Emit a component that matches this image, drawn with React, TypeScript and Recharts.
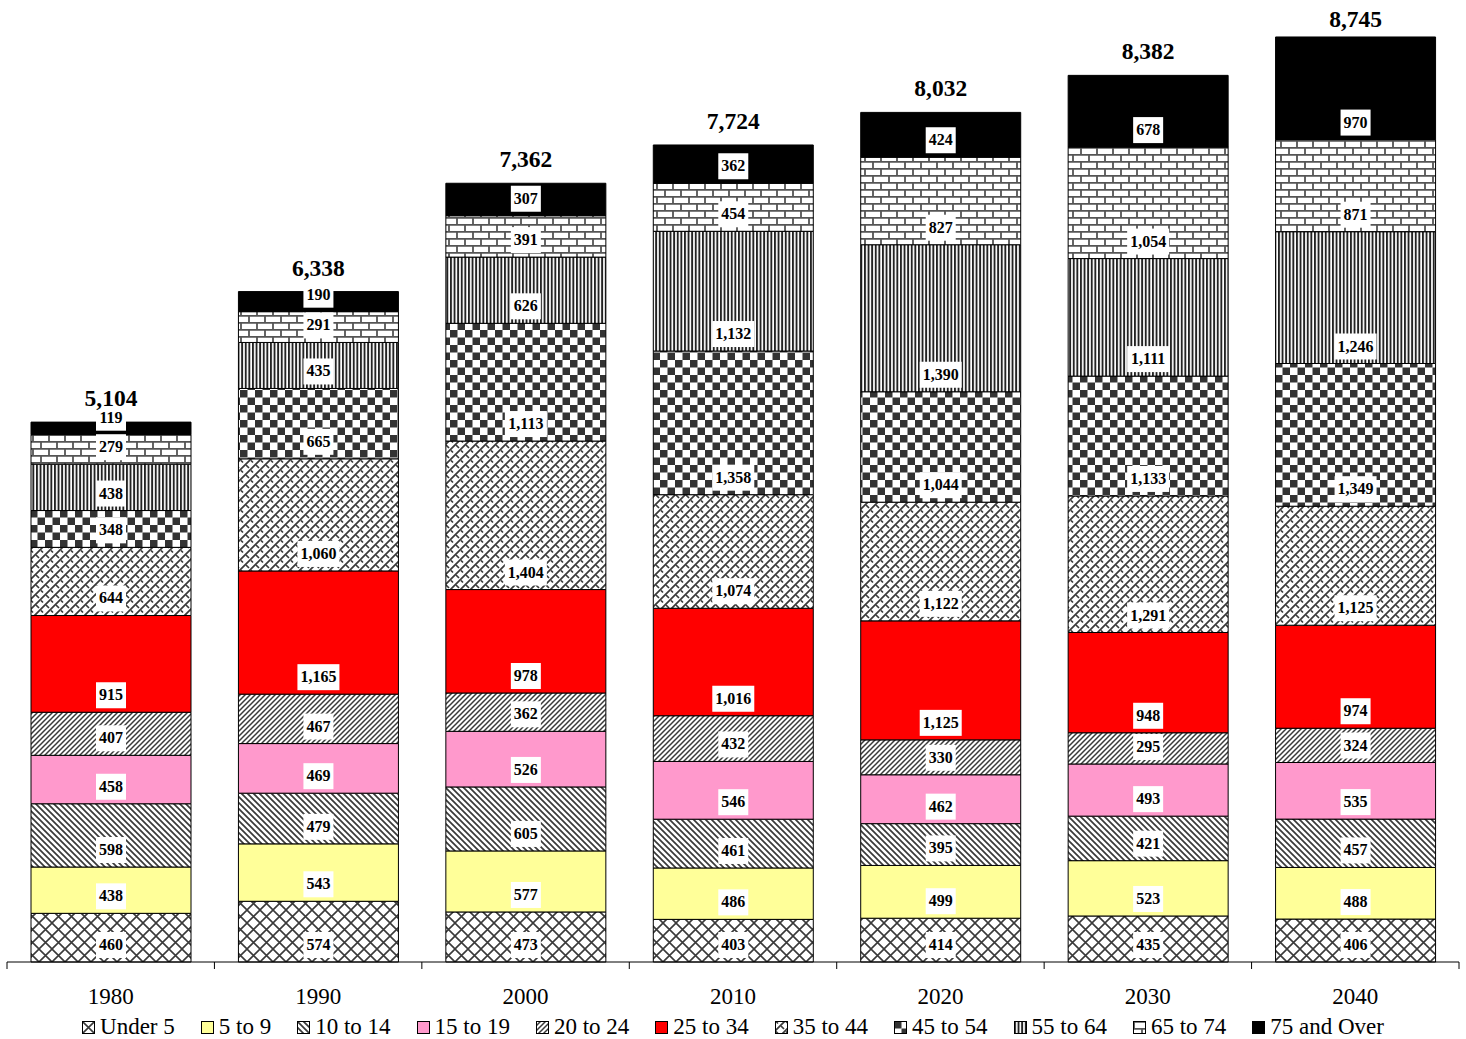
import React from "react";
import { BarChart, Bar, XAxis, YAxis, LabelList } from "recharts";

// population by age group (thousands)
const YEARS = ["1980", "1990", "2000", "2010", "2020", "2030", "2040"];
const UNDER_5 = [460, 574, 473, 403, 414, 435, 406];
const AGE_5_9 = [438, 543, 577, 486, 499, 523, 488];
const AGE_10_14 = [598, 479, 605, 461, 395, 421, 457];
const AGE_15_19 = [458, 469, 526, 546, 462, 493, 535];
const AGE_20_24 = [407, 467, 362, 432, 330, 295, 324];
const AGE_25_34 = [915, 1165, 978, 1016, 1125, 948, 974];
const AGE_35_44 = [644, 1060, 1404, 1074, 1122, 1291, 1125];
const AGE_45_54 = [348, 665, 1113, 1358, 1044, 1133, 1349];
const AGE_55_64 = [438, 435, 626, 1132, 1390, 1111, 1246];
const AGE_65_74 = [279, 291, 391, 454, 827, 1054, 871];
const AGE_75_UP = [119, 190, 307, 362, 424, 678, 970];
const TOTALS = [5104, 6338, 7362, 7724, 8032, 8382, 8745];

const SERIES = [
  { key: "u5", name: "Under 5", values: UNDER_5, fill: "url(#p-cross)" },
  { key: "a5", name: "5 to 9", values: AGE_5_9, fill: "#FFFF99" },
  { key: "a10", name: "10 to 14", values: AGE_10_14, fill: "url(#p-down)" },
  { key: "a15", name: "15 to 19", values: AGE_15_19, fill: "#FF99CC" },
  { key: "a20", name: "20 to 24", values: AGE_20_24, fill: "url(#p-up)" },
  { key: "a25", name: "25 to 34", values: AGE_25_34, fill: "#FF0000" },
  { key: "a35", name: "35 to 44", values: AGE_35_44, fill: "url(#p-weave)" },
  { key: "a45", name: "45 to 54", values: AGE_45_54, fill: "url(#p-check)" },
  { key: "a55", name: "55 to 64", values: AGE_55_64, fill: "url(#p-vert)" },
  { key: "a65", name: "65 to 74", values: AGE_65_74, fill: "url(#p-brick)" },
  { key: "a75", name: "75 and Over", values: AGE_75_UP, fill: "#000000" },
];

const data = YEARS.map((year, i) => {
  const row: Record<string, string | number> = { year };
  SERIES.forEach((s) => (row[s.key] = s.values[i]));
  return row;
});

const FONT = '"Liberation Serif", "Times New Roman", serif';
const WIDTH = 1466;
const MARGIN_X = 7;
const BAND = (WIDTH - 2 * MARGIN_X) / YEARS.length;
const INK = "#3a3a3a";

function Patterns() {
  return (
    <defs>
      <pattern id="p-cross" width={13} height={13} patternUnits="userSpaceOnUse">
        <rect width={13} height={13} fill="#fff" />
        <path d="M0 0L13 13M13 0L0 13" stroke={INK} strokeWidth={1.6} />
      </pattern>
      <pattern id="p-down" width={6} height={6} patternUnits="userSpaceOnUse">
        <rect width={6} height={6} fill="#fff" />
        <path d="M-1 -1L7 7M-1 5L1 7M5 -1L7 1" stroke={INK} strokeWidth={1.7} />
      </pattern>
      <pattern id="p-up" width={5} height={5} patternUnits="userSpaceOnUse">
        <rect width={5} height={5} fill="#fff" />
        <path d="M-1 6L6 -1M-1 1L1 -1M4 6L6 4" stroke={INK} strokeWidth={1.5} />
      </pattern>
      {/* weave: long "/" strands with short "\" crossings between them */}
      <pattern id="p-weave" width={10} height={10} patternUnits="userSpaceOnUse">
        <rect width={10} height={10} fill="#fff" />
        <path d="M-1 11L11 -1M-1 1L1 -1M9 11L11 9" stroke={INK} strokeWidth={1.7} />
        <path d="M6 5L9 8M1 0.5L3 2.5" stroke={INK} strokeWidth={1.7} />
      </pattern>
      <pattern id="p-check" width={15} height={15} patternUnits="userSpaceOnUse">
        <rect width={15} height={15} fill="#fff" />
        <rect width={7.5} height={7.5} fill="#333" />
        <rect x={7.5} y={7.5} width={7.5} height={7.5} fill="#333" />
      </pattern>
      <pattern id="p-vert" width={3.6} height={4} patternUnits="userSpaceOnUse">
        <rect width={3.6} height={4} fill="#fff" />
        <rect width={1.9} height={4} fill="#222" />
      </pattern>
      <pattern id="p-brick" width={16} height={14} patternUnits="userSpaceOnUse">
        <rect width={16} height={14} fill="#fff" />
        <path d="M0 0.8H16M0 7.8H16M1 0V7M9 7V14" stroke="#555" strokeWidth={1.8} />
      </pattern>
    </defs>
  );
}

// Excel "inside base" label: white box sitting just above the segment's bottom edge
function SegmentLabel(props: any) {
  const { x, y, width, height, value } = props;
  const text = Number(value).toLocaleString("en-US");
  const w = text.length * 8 + (text.includes(",") ? 2 : 6);
  const bottom = y + height;
  const cx = x + width / 2;
  return (
    <g>
      <rect x={cx - w / 2} y={bottom - 30} width={w} height={26} fill="#fff" />
      <text x={cx} y={bottom - 12} textAnchor="middle" fontFamily={FONT} fontWeight="bold" fontSize={16} fill="#000">
        {text}
      </text>
    </g>
  );
}

function TotalLabel(props: any) {
  const { x, y, width, index } = props;
  return (
    <text
      x={x + width / 2}
      y={Math.max(y - 16, 27)}
      textAnchor="middle"
      fontFamily={FONT}
      fontWeight="bold"
      fontSize={23.5}
      fill="#000"
    >
      {TOTALS[index].toLocaleString("en-US")}
    </text>
  );
}

function YearTick(props: any) {
  const { x, y, payload, index } = props;
  const left = x - BAND / 2;
  return (
    <g>
      <line x1={left} x2={left} y1={y} y2={y + 7} stroke="#000" />
      {index === YEARS.length - 1 && <line x1={x + BAND / 2} x2={x + BAND / 2} y1={y} y2={y + 7} stroke="#000" />}
      <text x={x} y={y + 42} textAnchor="middle" fontFamily={FONT} fontSize={23} fill="#000">
        {payload.value}
      </text>
    </g>
  );
}

function LegendRow() {
  return (
    <div
      style={{
        display: "flex",
        justifyContent: "center",
        alignItems: "center",
        gap: 26,
        height: 29,
        paddingTop: 5,
        boxSizing: "border-box",
        fontFamily: FONT,
        fontSize: 23,
        color: "#000",
      }}
    >
      {SERIES.map((s) => (
        <span key={s.key} style={{ display: "inline-flex", alignItems: "center", gap: 5 }}>
          <svg width={13} height={13}>
            <rect x={0.5} y={0.5} width={12} height={12} fill={s.fill} stroke="#000" />
          </svg>
          {s.name}
        </span>
      ))}
    </div>
  );
}

export default function App() {
  return (
    <div style={{ position: "absolute", left: 0, top: 0, width: WIDTH, height: 1039, background: "#fff" }}>
      <BarChart
        width={WIDTH}
        height={1010}
        data={data}
        margin={{ top: 10, right: MARGIN_X, left: MARGIN_X, bottom: 0 }}
        barSize={160}
      >
        <Patterns />
        <XAxis
          dataKey="year"
          height={48}
          axisLine={{ stroke: "#000" }}
          tickLine={false}
          tickSize={0}
          tickMargin={0}
          tick={<YearTick />}
          interval={0}
        />
        <YAxis hide domain={[0, 9000]} />
        {SERIES.map((s, i) => (
          <Bar key={s.key} dataKey={s.key} name={s.name} stackId="pop" fill={s.fill} stroke="#000" strokeWidth={1} isAnimationActive={false}>
            <LabelList dataKey={s.key} content={<SegmentLabel />} />
            {i === SERIES.length - 1 && <LabelList dataKey={s.key} content={<TotalLabel />} />}
          </Bar>
        ))}
      </BarChart>
      <LegendRow />
    </div>
  );
}
